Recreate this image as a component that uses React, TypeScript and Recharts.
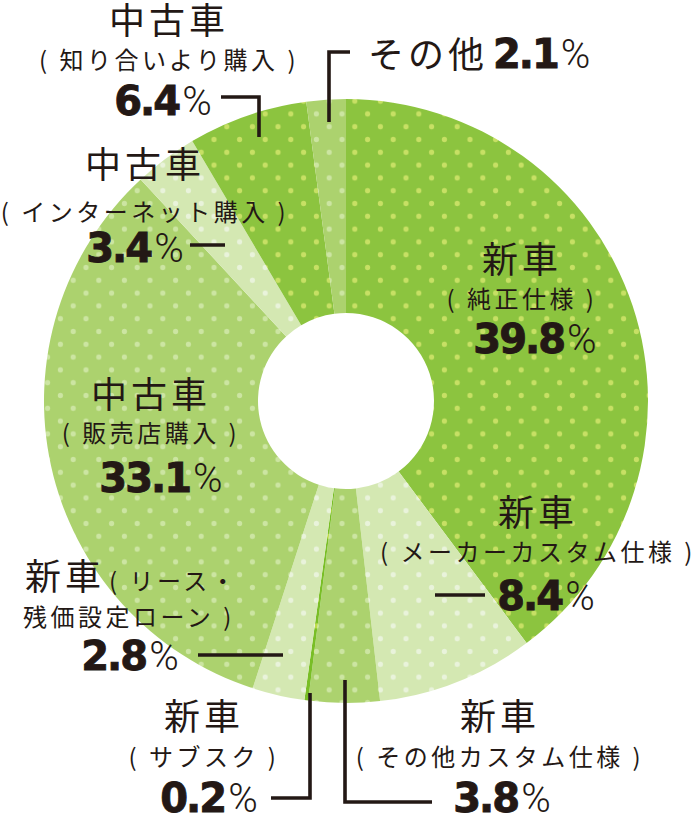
import React from 'react';
import { PieChart, Pie, Cell } from 'recharts';

// slices, clockwise from 12 o'clock
const TITLES = ['新車', '新車', '新車', '新車', '新車', '中古車', '中古車', '中古車', 'その他'];
const SUBTITLES = [
  '純正仕様',
  'メーカーカスタム仕様',
  'その他カスタム仕様',
  'サブスク',
  'リース・残価設定ローン',
  '販売店購入',
  'インターネット購入',
  '知り合いより購入',
  '',
];
const SHARES = [39.8, 8.4, 3.8, 0.2, 2.8, 33.1, 3.4, 6.4, 2.1];
const TONES = ['dark', 'light', 'mid', 'vivid', 'light', 'mid', 'light', 'dark', 'mid'];

const data = TITLES.map((title, i) => ({ name: `${title}${SUBTITLES[i]}`, value: SHARES[i] }));

const INK = '#231815';
const JP = '"Noto Sans CJK JP", "Noto Sans", sans-serif';
const NUM = '"DejaVu Sans", sans-serif';
const PCT = 'Roboto, "Liberation Sans", sans-serif';

const SWATCH: Record<string, { base: string; dot: string }> = {
  dark: { base: '#8cc43f', dot: '#c7e064' },
  mid: { base: '#acd26e', dot: '#cce5a2' },
  light: { base: '#d4e8b2', dot: '#e9f3db' },
  vivid: { base: '#79be26', dot: '#bcdc4a' },
};

// where each slice's label sits (title / subtitle / number baselines)
const PLACES = [
  { x: 520, t: 273, s: 308, vx: 535, v: 353, lead: '' },
  { x: 536, t: 526, s: 561, vx: 546, v: 610, lead: 'M435 595H485' },
  { x: 498, t: 730, s: 766, vx: 502, v: 812, lead: 'M345 680V802H432' },
  { x: 202, t: 730, s: 766, vx: 209, v: 812, lead: 'M310 693V798H271' },
  { x: 25, t: 590, s: 626, vx: 130, v: 670, lead: 'M198 655H283' },
  { x: 149, t: 408, s: 442, vx: 161, v: 492, lead: '' },
  { x: 143, t: 178, s: 221, vx: 135, v: 262, lead: 'M190 245H225' },
  { x: 167, t: 34, s: 69, vx: 163, v: 115, lead: 'M221 97H259V137' },
  { x: 368, t: 68, s: 0, vx: 493, v: 68, lead: 'M329 122V52H350' },
];

const TITLE_SIZE = 36;
const SUB_SIZE = 24;
const SUB_TRACK = 3.5;

const Value = ({ share }: { share: number }) => (
  <>
    <tspan
      fontFamily={NUM}
      fontWeight={700}
      fontSize={40}
      letterSpacing={-2}
      stroke={INK}
      strokeWidth={0.9}
    >
      {share.toFixed(1)}
    </tspan>
    <tspan fontFamily={PCT} fontWeight={300} fontSize={40} dx={3}>
      %
    </tspan>
  </>
);

const renderLabel = (props: any) => {
  const i = props.index;
  const p = PLACES[i];
  const lead = p.lead ? (
    <path d={p.lead} fill="none" stroke={INK} strokeWidth={3.6} />
  ) : null;

  if (i === 8) {
    return (
      <g key={`lbl-${i}`}>
        {lead}
        <text x={p.x} y={p.t} fill={INK} fontFamily={JP} fontSize={TITLE_SIZE} letterSpacing={4}>
          {TITLES[i]}
        </text>
        <text x={p.vx} y={p.v} fill={INK}>
          <Value share={SHARES[i]} />
        </text>
      </g>
    );
  }

  if (i === 4) {
    const [first, second] = SUBTITLES[i].split('・');
    return (
      <g key={`lbl-${i}`}>
        {lead}
        <text x={p.x} y={p.t} fill={INK} fontFamily={JP} fontSize={TITLE_SIZE} letterSpacing={4}>
          {TITLES[i]}
          <tspan fontSize={SUB_SIZE} letterSpacing={SUB_TRACK} dx={4}>{`( ${first}・`}</tspan>
        </text>
        <text x={p.x - 2} y={p.s} fill={INK} fontFamily={JP} fontSize={SUB_SIZE} letterSpacing={SUB_TRACK}>
          {`${second} )`}
        </text>
        <text x={p.vx} y={p.v} fill={INK} textAnchor="middle">
          <Value share={SHARES[i]} />
        </text>
      </g>
    );
  }

  return (
    <g key={`lbl-${i}`}>
      {lead}
      <text x={p.x + 2} y={p.t} fill={INK} fontFamily={JP} fontSize={TITLE_SIZE} letterSpacing={4} textAnchor="middle">
        {TITLES[i]}
      </text>
      <text x={p.x + 2} y={p.s} fill={INK} fontFamily={JP} fontSize={SUB_SIZE} letterSpacing={SUB_TRACK} textAnchor="middle">
        {`( ${SUBTITLES[i]} )`}
      </text>
      <text x={p.vx} y={p.v} fill={INK} textAnchor="middle">
        <Value share={SHARES[i]} />
      </text>
    </g>
  );
};

const DotPatterns = () => (
  <svg width={0} height={0} style={{ position: 'absolute' }}>
    <defs>
      {Object.entries(SWATCH).map(([tone, c]) => (
        <pattern
          key={tone}
          id={`dots-${tone}`}
          patternUnits="userSpaceOnUse"
          x={2.8}
          y={5.1}
          width={25.6}
          height={25.6}
        >
          <rect width={25.6} height={25.6} fill={c.base} />
          <circle cx={6.4} cy={6.4} r={2.6} fill={c.dot} />
          <circle cx={19.2} cy={19.2} r={2.6} fill={c.dot} />
        </pattern>
      ))}
    </defs>
  </svg>
);

const App: React.FC = () => {
  return (
    <div style={{ position: 'absolute', left: 0, top: 0, width: 696, height: 840, background: '#fff' }}>
      <DotPatterns />
      <PieChart width={696} height={840} margin={{ top: 0, right: 0, bottom: 0, left: 0 }}>
        <Pie
          data={data}
          dataKey="value"
          nameKey="name"
          cx={346}
          cy={401}
          innerRadius={88}
          outerRadius={302}
          startAngle={90}
          endAngle={-270}
          stroke="none"
          label={renderLabel}
          labelLine={false}
          isAnimationActive={false}
        >
          {data.map((entry, index) => (
            <Cell key={`cell-${index}`} fill={`url(#dots-${TONES[index]})`} />
          ))}
        </Pie>
      </PieChart>
    </div>
  );
};

export default App;
